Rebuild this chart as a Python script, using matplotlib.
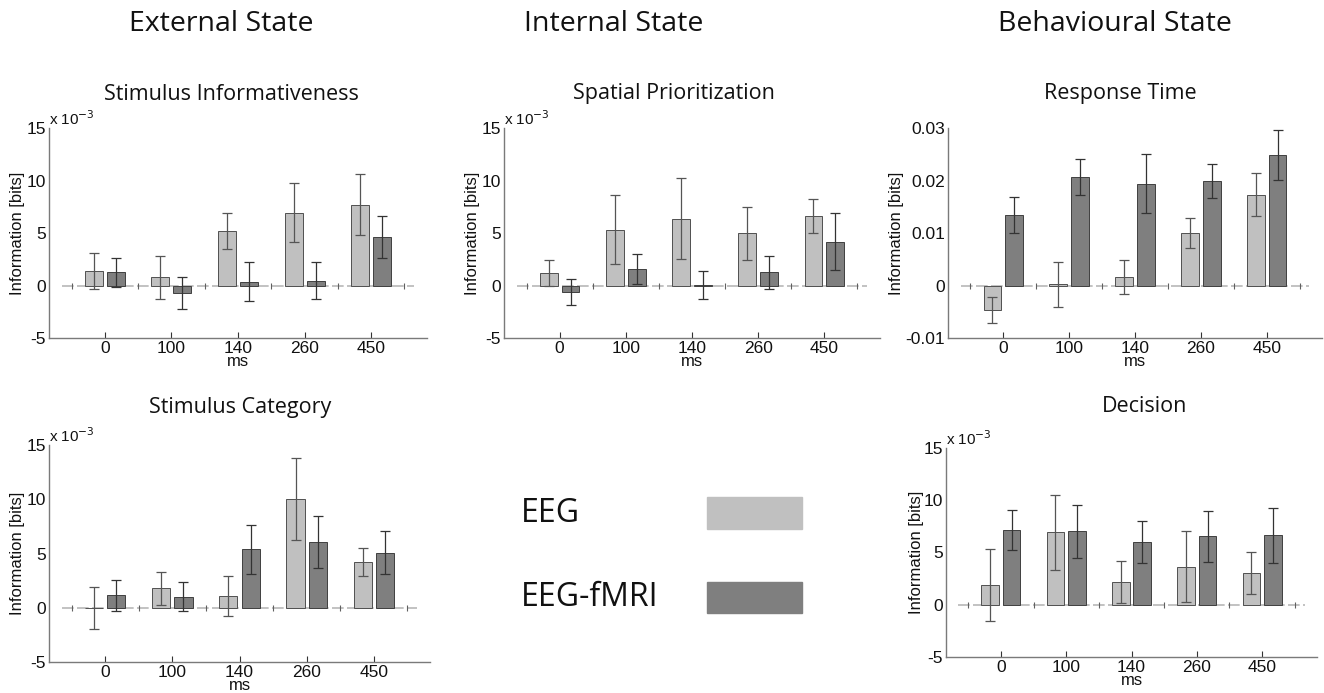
import numpy as np
import matplotlib
matplotlib.use("Agg")
import matplotlib.pyplot as plt
from matplotlib.patches import Rectangle

# time points (ms)
times = ["0", "100", "140", "260", "450"]

# Stimulus Informativeness (x 10^-3 bits)
inf_eeg = [1.35, 0.78, 5.2, 6.95, 7.7]
inf_eeg_err = [1.7, 2.05, 1.7, 2.85, 2.9]
inf_fmri = [1.25, -0.72, 0.38, 0.45, 4.6]
inf_fmri_err = [1.4, 1.5, 1.9, 1.75, 1.98]

# Spatial Prioritization (x 10^-3 bits)
spa_eeg = [1.19, 5.32, 6.38, 4.97, 6.63]
spa_eeg_err = [1.25, 3.3, 3.9, 2.5, 1.63]
spa_fmri = [-0.6, 1.57, 0.05, 1.25, 4.17]
spa_fmri_err = [1.23, 1.4, 1.3, 1.55, 2.73]

# Response Time (bits)
rt_eeg = [-0.0047, 0.0002, 0.0016, 0.0100, 0.01725]
rt_eeg_err = [0.0025, 0.0043, 0.0033, 0.0029, 0.0041]
rt_fmri = [0.01345, 0.02066, 0.0194, 0.0199, 0.0249]
rt_fmri_err = [0.0035, 0.0035, 0.0056, 0.0032, 0.0048]

# Stimulus Category (x 10^-3 bits)
cat_eeg = [-0.03, 1.78, 1.06, 10.06, 4.22]
cat_eeg_err = [1.9, 1.55, 1.84, 3.78, 1.33]
cat_fmri = [1.13, 1.03, 5.37, 6.03, 5.09]
cat_fmri_err = [1.45, 1.35, 2.3, 2.4, 1.97]

# Decision (x 10^-3 bits)
dec_eeg = [1.92, 6.92, 2.18, 3.65, 3.04]
dec_eeg_err = [3.46, 3.57, 2.03, 3.43, 1.99]
dec_fmri = [7.15, 7.02, 6.0, 6.54, 6.67]
dec_fmri_err = [1.94, 2.53, 1.99, 2.42, 2.63]

light = "#c0c0c0"
dark = "#7f7f7f"
axcol = "#7a7a7a"
W, H = 1324, 693

fig = plt.figure(figsize=(W / 100, H / 100), dpi=100)


def px_axes(l, t, r, b):
    return fig.add_axes([l / W, 1 - b / H, (r - l) / W, (b - t) / H])


def fig_text(x, y, s, **kw):
    fig.text(x / W, 1 - y / H, s, **kw)


def panel(ax, eeg, eeg_err, fmri, fmri_err, ylim, yticks, yticklabels, scaled, ylab_x):
    x = np.arange(1, len(times) + 1)
    off, w = 0.165, 0.27
    ax.plot([0.35, 5.65], [0, 0], color="#b8b8b8", lw=1.2, dashes=(7, 2), zorder=1)
    ax.plot(np.arange(0.5, 6.0, 1.0), np.zeros(6), ls="none", marker="|",
            ms=4, color="#606060", mew=0.8, zorder=1)
    ax.bar(x - off, eeg, width=w, color=light, edgecolor="#505050", lw=0.7, zorder=2)
    ax.bar(x + off, fmri, width=w, color=dark, edgecolor="#404040", lw=0.7, zorder=2)
    ax.errorbar(x - off, eeg, yerr=eeg_err, fmt="none", ecolor="#555555",
                elinewidth=0.9, capsize=3.5, capthick=0.9, zorder=3)
    ax.errorbar(x + off, fmri, yerr=fmri_err, fmt="none", ecolor="#333333",
                elinewidth=0.9, capsize=3.5, capthick=0.9, zorder=3)
    ax.set_xlim(0.16, 5.84)
    ax.set_ylim(*ylim)
    ax.set_xticks(x)
    ax.set_xticklabels(times)
    ax.set_yticks(yticks)
    ax.set_yticklabels(yticklabels)
    for s in ["top", "right"]:
        ax.spines[s].set_visible(False)
    for s in ["left", "bottom"]:
        ax.spines[s].set_color(axcol)
        ax.spines[s].set_linewidth(1.0)
    ax.tick_params(direction="in", length=4, width=0.8, color="#333333",
                   labelsize=12.5, pad=2, labelcolor="#111111")
    ax.tick_params(axis="y", length=0, pad=2)
    for lab in ax.get_xticklabels() + ax.get_yticklabels():
        lab.set_family("Liberation Sans")
    ax.set_xlabel("ms", family="Liberation Sans", fontsize=12, labelpad=-1,
                  color="#111111")
    ax.set_ylabel("Information [bits]", family="Liberation Sans", fontsize=12,
                  color="#111111")
    ax.yaxis.set_label_coords(ylab_x, 0.5)
    if scaled:
        ax.text(0.0, 1.0, "x 10$^{-3}$", transform=ax.transAxes, ha="left",
                va="bottom", fontsize=11, family="Liberation Sans", color="#111111",
                fontdict=dict(math_fontfamily="dejavusans"))


sc_ticks = [-5, 0, 5, 10, 15]
sc_labels = ["-5", "0", "5", "10", "15"]

ax1 = px_axes(49, 128, 427, 338)
panel(ax1, inf_eeg, inf_eeg_err, inf_fmri, inf_fmri_err, (-5, 15), sc_ticks, sc_labels,
      True, -0.063)
ax2 = px_axes(504, 128, 880, 338)
panel(ax2, spa_eeg, spa_eeg_err, spa_fmri, spa_fmri_err, (-5, 15), sc_ticks, sc_labels,
      True, -0.064)
ax3 = px_axes(948, 128, 1322, 338)
panel(ax3, rt_eeg, rt_eeg_err, rt_fmri, rt_fmri_err, (-0.01, 0.03),
      [-0.01, 0, 0.01, 0.02, 0.03], ["-0.01", "0", "0.01", "0.02", "0.03"], False, -0.118)
ax4 = px_axes(49, 445, 430, 662)
panel(ax4, cat_eeg, cat_eeg_err, cat_fmri, cat_fmri_err, (-5, 15), sc_ticks, sc_labels,
      True, -0.063)
ax5 = px_axes(946, 448, 1317, 657)
panel(ax5, dec_eeg, dec_eeg_err, dec_fmri, dec_fmri_err, (-5, 15), sc_ticks, sc_labels,
      True, -0.059)

# column headers
hdr = dict(family="Open Sans", fontsize=20.5, ha="center", va="center", color="#111111")
fig_text(221, 24, "External State", **hdr)
fig_text(614, 24, "Internal State", **hdr)
fig_text(1115, 24, "Behavioural State", **hdr)

# panel titles
ttl = dict(family="Open Sans", fontsize=15.5, ha="center", va="center", color="#111111")
fig_text(231, 94, "Stimulus Informativeness", **ttl)
fig_text(674, 94, "Spatial Prioritization", **ttl)
fig_text(1120, 94, "Response Time", **ttl)
fig_text(240, 407, "Stimulus Category", **ttl)
fig_text(1145, 407, "Decision", **ttl)

# legend
lg = dict(family="Open Sans", fontsize=23, ha="left", va="center", color="#111111")
fig_text(521, 513, "EEG", **lg)
fig_text(521, 598, "EEG-fMRI", **lg)
fig.patches.append(Rectangle((707 / W, 1 - 529 / H), 95 / W, 32 / H,
                             transform=fig.transFigure, color=light))
fig.patches.append(Rectangle((707 / W, 1 - 613 / H), 95 / W, 31 / H,
                             transform=fig.transFigure, color=dark))

fig.savefig("out.png", dpi=100)
